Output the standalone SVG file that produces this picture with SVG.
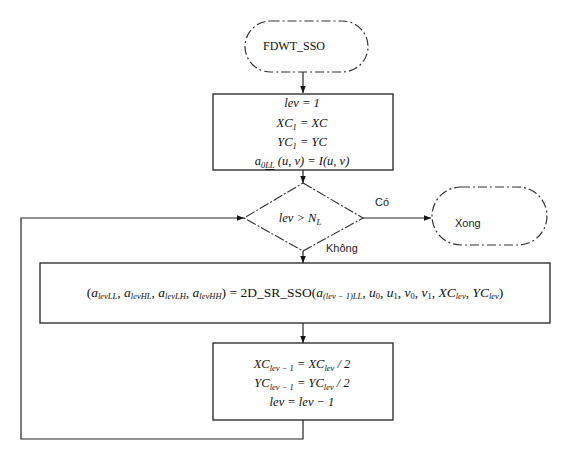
<svg xmlns="http://www.w3.org/2000/svg" width="573" height="452" viewBox="0 0 573 452">
<defs>
<marker id="ah" viewBox="0 0 10 10" refX="10" refY="5" markerWidth="7" markerHeight="7" orient="auto" markerUnits="userSpaceOnUse">
<path d="M0,1 L10,5 L0,9 z" fill="#111"/>
</marker>
<style>
.box{fill:#fff;stroke:#222;stroke-width:1.3}
.term{fill:#fff;stroke:#333;stroke-width:1.2;stroke-dasharray:9 3 2 3}
.dia{fill:#fff;stroke:#333;stroke-width:1.1;stroke-dasharray:10 2 2 2}
.ln{fill:none;stroke:#222;stroke-width:1.2}
.m{font-family:"Liberation Serif","DejaVu Serif",serif;font-size:12.5px;fill:#111;text-anchor:middle}
.i{font-style:italic}
.s{font-family:"Liberation Sans",Arial,sans-serif;font-size:11px;fill:#222}
.sub{font-size:8.5px}
</style>
</defs>
<rect width="573" height="452" fill="#fff"/>
<g id="connectors">
<line class="ln" x1="303" y1="72" x2="303" y2="93" marker-end="url(#ah)"/>
<line class="ln" x1="303" y1="170" x2="303" y2="183" marker-end="url(#ah)"/>
<line class="ln" x1="363" y1="218" x2="431" y2="218" marker-end="url(#ah)"/>
<line class="ln" x1="303" y1="251" x2="303" y2="263" marker-end="url(#ah)"/>
<line class="ln" x1="303" y1="323" x2="303" y2="343" marker-end="url(#ah)"/>
<polyline class="ln" points="303,420 303,439 21,439 21,218 244,218" marker-end="url(#ah)"/>
<text class="s" x="375" y="206">Có</text>
<text class="s" x="326" y="252">Không</text>
</g>
<g id="start">
<rect class="term" x="245" y="21" width="123" height="51" rx="25.5"/>
<text class="m" x="294" y="50" style="font-size:12px">FDWT_SSO</text>
</g>
<g id="init">
<rect class="box" x="213" y="94" width="180" height="76"/>
<text class="m i" x="302" y="107">lev = 1</text>
<text class="m i" x="302" y="127">XC<tspan class="sub" dy="3">1</tspan><tspan dy="-3"> = XC</tspan></text>
<text class="m i" x="302" y="146">YC<tspan class="sub" dy="3">1</tspan><tspan dy="-3"> = YC</tspan></text>
<text class="m i" x="302" y="165">a<tspan class="sub" dy="3">0</tspan><tspan class="sub" text-decoration="underline">LL</tspan><tspan dy="-3"> (u, v) = I(u, v)</tspan></text>
</g>
<g id="decision">
<polygon class="dia" points="303,183 363,218 303,251 244,218"/>
<text class="m i" x="300" y="222">lev &gt; N<tspan class="sub" dy="3">L</tspan></text>
</g>
<g id="done">
<rect class="term" x="432" y="187" width="115" height="58" rx="29"/>
<text class="s" x="455" y="227">Xong</text>
</g>
<g id="transform">
<rect class="box" x="40" y="263" width="510" height="60"/>
<text class="m" x="295" y="297" style="font-size:13.5px">(<tspan class="i">a</tspan><tspan class="sub i" dy="2">lev</tspan><tspan class="sub i">LL</tspan><tspan dy="-2">, </tspan><tspan class="i">a</tspan><tspan class="sub i" dy="2">lev</tspan><tspan class="sub i">HL</tspan><tspan dy="-2">, </tspan><tspan class="i">a</tspan><tspan class="sub i" dy="2">lev</tspan><tspan class="sub i">LH</tspan><tspan dy="-2">, </tspan><tspan class="i">a</tspan><tspan class="sub i" dy="2">lev</tspan><tspan class="sub i">HH</tspan><tspan dy="-2">) = 2D_SR_SSO(</tspan><tspan class="i">a</tspan><tspan class="sub i" dy="2">(lev − 1)</tspan><tspan class="sub i">LL</tspan><tspan dy="-2">, </tspan><tspan class="i">u</tspan><tspan class="sub" dy="2">0</tspan><tspan dy="-2">, </tspan><tspan class="i">u</tspan><tspan class="sub" dy="2">1</tspan><tspan dy="-2">, </tspan><tspan class="i">v</tspan><tspan class="sub" dy="2">0</tspan><tspan dy="-2">, </tspan><tspan class="i">v</tspan><tspan class="sub" dy="2">1</tspan><tspan dy="-2">, </tspan><tspan class="i">XC</tspan><tspan class="sub i" dy="2">lev</tspan><tspan dy="-2">, </tspan><tspan class="i">YC</tspan><tspan class="sub i" dy="2">lev</tspan><tspan dy="-2">)</tspan></text>
</g>
<g id="update">
<rect class="box" x="213" y="343" width="180" height="77"/>
<text class="m i" x="302" y="368">XC<tspan class="sub" dy="3">lev − 1</tspan><tspan dy="-3"> = XC</tspan><tspan class="sub" dy="3">lev</tspan><tspan dy="-3"> / 2</tspan></text>
<text class="m i" x="302" y="387">YC<tspan class="sub" dy="3">lev − 1</tspan><tspan dy="-3"> = YC</tspan><tspan class="sub" dy="3">lev</tspan><tspan dy="-3"> / 2</tspan></text>
<text class="m i" x="302" y="406">lev = lev − 1</text>
</g>
</svg>
